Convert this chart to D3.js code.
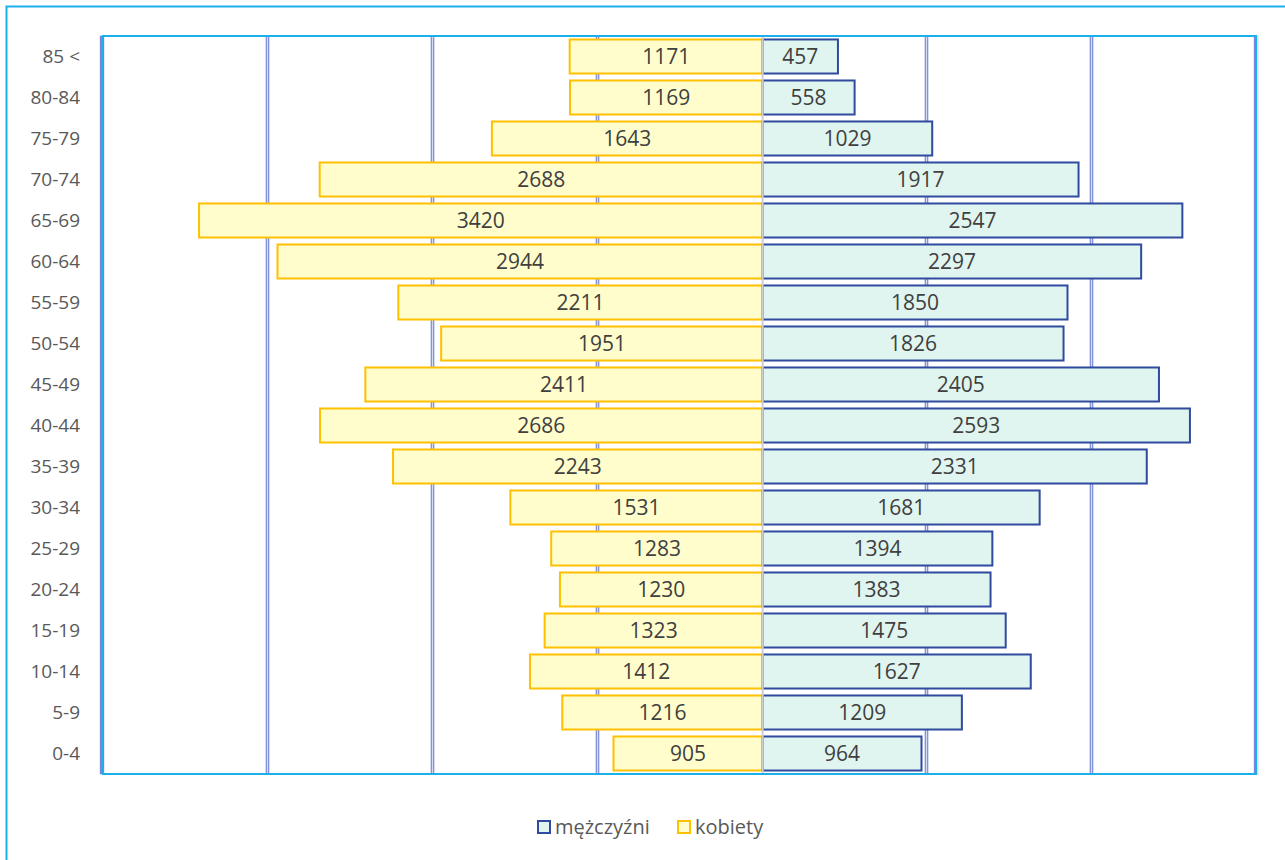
<!DOCTYPE html>
<html>
<head>
<meta charset="utf-8">
<script src="https://cdn.jsdelivr.net/npm/d3@7"></script>
<style>
  html, body { margin: 0; padding: 0; background: #fff; }
  svg { display: block; }
</style>
</head>
<body>
<div id="chart"></div>
<script>
// Grupy wieku (od góry do dołu)
const AGE_GROUPS = ['85 <', '80-84', '75-79', '70-74', '65-69', '60-64', '55-59', '50-54',
  '45-49', '40-44', '35-39', '30-34', '25-29', '20-24', '15-19', '10-14', '5-9', '0-4'];
const WOMEN = [1171, 1169, 1643, 2688, 3420, 2944, 2211, 1951, 2411, 2686, 2243, 1531, 1283, 1230, 1323, 1412, 1216, 905];
const MEN   = [457, 558, 1029, 1917, 2547, 2297, 1850, 1826, 2405, 2593, 2331, 1681, 1394, 1383, 1475, 1627, 1209, 964];
const GRID_TICKS = [-3000, -2000, -1000, 1000, 2000];
const LEGEND = ['mężczyźni', 'kobiety'];

const W = 1285, H = 860;
const FONT = "'Open Sans', 'Noto Sans', sans-serif";
const C = {
  frame:    '#1cb0ea',
  grid:     '#8593d8',
  gridHalo: '#d6dbf4',
  axis:     '#cfcfcf',
  wFill:    '#fffdcc',
  wStroke:  '#ffc000',
  mFill:    '#e0f5ef',
  mStroke:  '#2f4a9e',
  label:    '#404040',
  tick:     '#595959'
};

const svg = d3.select('#chart').append('svg')
  .attr('width', W).attr('height', H);

// outer frame
svg.append('rect')
  .attr('x', 6.5).attr('y', 6.5)
  .attr('width', W).attr('height', H)
  .attr('fill', 'none').attr('stroke', C.frame).attr('stroke-width', 2);

const plot = { left: 102, right: 1256, top: 36, bottom: 774 };

const x = d3.scaleLinear().domain([-4000, 3000]).range([plot.left + 1.5, plot.right + 1]);
const y = d3.scaleBand().domain(AGE_GROUPS).range([plot.top, plot.bottom]).paddingInner(0.17).paddingOuter(0.085);

const g = svg.append('g');

// vertical gridlines (double-line look)
GRID_TICKS.forEach(t => {
  const gx = Math.round(x(t)) - 0.5;
  g.append('line')
    .attr('x1', gx).attr('x2', gx).attr('y1', plot.top).attr('y2', plot.bottom + 1)
    .attr('stroke', C.gridHalo).attr('stroke-width', 5);
  [-1, 1].forEach(o => g.append('line')
    .attr('x1', gx + o).attr('x2', gx + o).attr('y1', plot.top).attr('y2', plot.bottom + 1)
    .attr('stroke', C.grid).attr('stroke-width', 1));
});

// plot edges: left/right gridline + cyan border
[plot.left, plot.right].forEach(px => {
  g.append('line')
    .attr('x1', px).attr('x2', px).attr('y1', plot.top - 1).attr('y2', plot.bottom + 1)
    .attr('stroke', C.gridHalo).attr('stroke-width', 5);
  g.append('line')
    .attr('x1', px - 1).attr('x2', px - 1).attr('y1', plot.top).attr('y2', plot.bottom)
    .attr('stroke', '#5a6ad2').attr('stroke-width', 1.5);
});
g.append('rect')
  .attr('x', plot.left + 1).attr('y', plot.top)
  .attr('width', plot.right - plot.left - 1).attr('height', plot.bottom - plot.top)
  .attr('fill', 'none').attr('stroke', C.frame).attr('stroke-width', 2);

// bars
const rows = AGE_GROUPS.map((a, i) => ({ age: a, w: WOMEN[i], m: MEN[i] }));

g.selectAll('.bar-w')
  .data(rows).enter()
  .append('rect')
  .attr('x', d => x(-d.w))
  .attr('y', d => y(d.age))
  .attr('width', d => x(0) - x(-d.w))
  .attr('height', y.bandwidth())
  .attr('fill', C.wFill)
  .attr('stroke', C.wStroke).attr('stroke-width', 2);

g.selectAll('.bar-m')
  .data(rows).enter()
  .append('rect')
  .attr('x', x(0))
  .attr('y', d => y(d.age))
  .attr('width', d => x(d.m) - x(0))
  .attr('height', y.bandwidth())
  .attr('fill', C.mFill)
  .attr('stroke', C.mStroke).attr('stroke-width', 2);

// center axis
g.append('line')
  .attr('x1', x(0)).attr('x2', x(0)).attr('y1', plot.top + 1).attr('y2', plot.bottom - 1)
  .attr('stroke', C.axis).attr('stroke-width', 2);

// value labels
g.selectAll('.lbl-w')
  .data(rows).enter()
  .append('text')
  .attr('x', d => (x(-d.w) + x(0)) / 2)
  .attr('y', d => y(d.age) + y.bandwidth() / 2)
  .attr('dy', '0.36em')
  .attr('text-anchor', 'middle')
  .attr('font-size', '21px').attr('font-family', FONT)
  .attr('fill', C.label)
  .text(d => d.w);

g.selectAll('.lbl-m')
  .data(rows).enter()
  .append('text')
  .attr('x', d => (x(d.m) + x(0)) / 2)
  .attr('y', d => y(d.age) + y.bandwidth() / 2)
  .attr('dy', '0.36em')
  .attr('text-anchor', 'middle')
  .attr('font-size', '21px').attr('font-family', FONT)
  .attr('fill', C.label)
  .text(d => d.m);

// y axis labels
g.append('g')
  .attr('transform', `translate(${plot.left - 22},0)`)
  .call(d3.axisLeft(y).tickSize(0).tickPadding(0))
  .call(a => a.select('.domain').remove())
  .call(a => a.selectAll('.tick text')
    .attr('font-size', '19px').attr('font-family', FONT)
    .attr('fill', C.tick).attr('dy', '0.36em'));

// legend
const leg = svg.append('g').attr('transform', 'translate(537,827)');
const legItems = [
  { label: LEGEND[0], fill: C.mFill, stroke: C.mStroke, dx: 0 },
  { label: LEGEND[1], fill: C.wFill, stroke: C.wStroke, dx: 140 }
];
legItems.forEach(it => {
  const r = leg.append('g').attr('transform', `translate(${it.dx},0)`);
  r.append('rect').attr('x', 1).attr('y', -6).attr('width', 12).attr('height', 12)
    .attr('fill', it.fill).attr('stroke', it.stroke).attr('stroke-width', 2);
  r.append('text').attr('x', 18).attr('y', 0).attr('dy', '0.36em')
    .attr('font-size', '20px').attr('font-family', FONT).attr('fill', C.tick)
    .text(it.label);
});
</script>
</body>
</html>
